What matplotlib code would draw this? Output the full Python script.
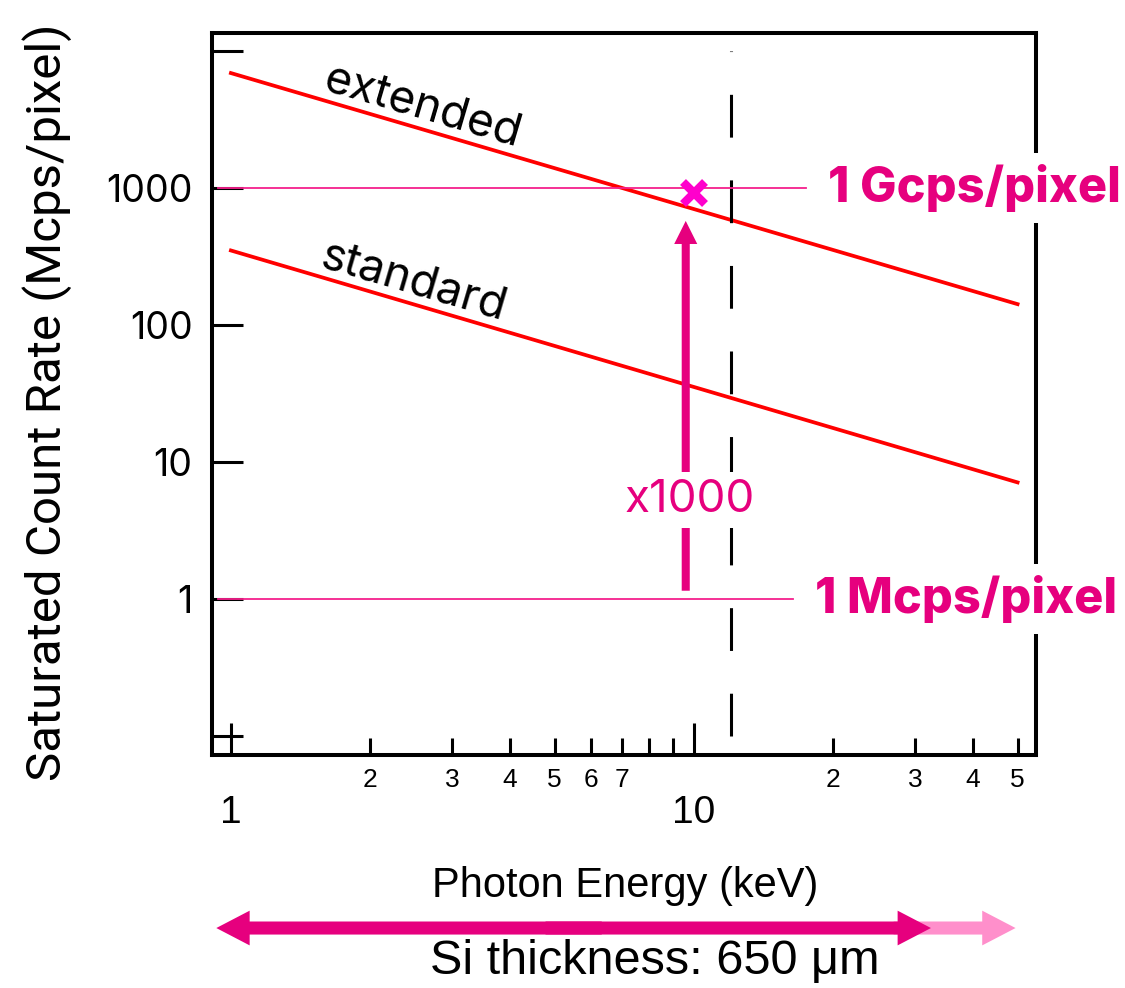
import matplotlib
matplotlib.use("Agg")
import matplotlib.pyplot as plt
from matplotlib.ticker import FixedLocator, FixedFormatter, NullLocator
import numpy as np

# data
energy = [1.0, 50.0]                 # keV
extended = [6900.0, 142.0]           # Mcps/pixel
standard = [350.0, 7.1]
edge_kev = 12.0                      # dashed vertical line
edge_span = [0.1, 10000.0]
gcps_level = 1000.0
mcps_level = 1.0
gcps_span = [0.94, 17.5]
mcps_span = [0.94, 16.4]
target_pt = (10.0, 925.0)            # the x marker
gain_arrow_x = 9.6
gain_arrow_y = (1.15, 575.0)
si_range = (0.93, 32.5)              # dark double arrow
si_extra = (27.0, 49.5)              # light arrow

x_major = [1, 10]
x_major_labels = ["1", "10"]
x_minor = [2, 3, 4, 5, 6, 7, 8, 9, 20, 30, 40, 50]
x_minor_labels = ["2", "3", "4", "5", "6", "7", "", "", "2", "3", "4", "5"]
y_major = [0.1, 1, 10, 100, 1000, 10000]
y_major_labels = ["", "1", "10", "100", "1000", ""]

PINK = "#e6007e"
LINE_PINK = "#f5208c"
LIGHT_PINK = "#ff8fcb"
MARK = "#ff00cc"
RED = "#ff0000"

fig = plt.figure(figsize=(11.25, 9.88), dpi=100)
ax = fig.add_axes([0.1884, 0.2358, 0.7325, 0.7308])
ax.set_xscale("log")
ax.set_yscale("log")
ax.set_xlim(0.91, 54.8)
ax.set_ylim(0.0727, 13530)

for s in ax.spines.values():
    s.set_linewidth(2.9)

ax.plot(energy, extended, color=RED, lw=2.7)
ax.plot(energy, standard, color=RED, lw=2.7)
ax.plot([edge_kev, edge_kev], edge_span, color="black", lw=2.2, ls=(0, (14, 14)))
ax.plot(gcps_span, [gcps_level] * 2, color=LINE_PINK, lw=1.3)
ax.plot(mcps_span, [mcps_level] * 2, color=LINE_PINK, lw=1.3)
ax.plot([target_pt[0]], [target_pt[1]], marker="x", ms=16, mew=6, color=MARK,
        ls="none", zorder=4)

ax.annotate("", xy=(gain_arrow_x, gain_arrow_y[1]), xytext=(gain_arrow_x, gain_arrow_y[0]),
            arrowprops=dict(arrowstyle="simple,tail_width=0.58,head_width=1.66,head_length=1.66",
                            mutation_scale=10, color=PINK, lw=0, shrinkA=0, shrinkB=0))
ax.text(9.8, 5.3, "x1000", fontsize=33, family="Inter", color=PINK,
        ha="center", va="center",
        bbox=dict(facecolor="white", edgecolor="none", pad=5), zorder=5)

# curve labels, rotated along the lines
p0 = ax.transData.transform((energy[0], extended[0]))
p1 = ax.transData.transform((energy[1], extended[1]))
ang = np.degrees(np.arctan2(p1[1] - p0[1], p1[0] - p0[0]))
ax.text(2.6, 3950, "extended", fontsize=33, family="Inter", rotation=ang,
        ha="center", va="center", rotation_mode="anchor")
ax.text(2.48, 205, "standard", fontsize=33, family="Inter", rotation=ang,
        ha="center", va="center", rotation_mode="anchor")

ax.text(19.5, gcps_level, "1 Gcps/pixel", fontsize=35, family="Inter", weight="heavy",
        color=PINK, ha="left", va="center", clip_on=False, zorder=5,
        bbox=dict(facecolor="white", edgecolor="none", pad=8))
ax.text(18.3, mcps_level, "1 Mcps/pixel", fontsize=35, family="Inter", weight="heavy",
        color=PINK, ha="left", va="center", clip_on=False, zorder=5,
        bbox=dict(facecolor="white", edgecolor="none", pad=8))

# ticks
ax.xaxis.set_major_locator(FixedLocator(x_major))
ax.xaxis.set_major_formatter(FixedFormatter(x_major_labels))
ax.xaxis.set_minor_locator(FixedLocator(x_minor))
ax.xaxis.set_minor_formatter(FixedFormatter(x_minor_labels))
ax.yaxis.set_major_locator(FixedLocator(y_major))
ax.yaxis.set_major_formatter(FixedFormatter(y_major_labels))
ax.yaxis.set_minor_locator(NullLocator())
ax.tick_params(axis="x", which="major", direction="in", length=23, width=2.2,
               labelsize=28, pad=29, top=False, labelfontfamily="Liberation Sans")
ax.tick_params(axis="x", which="minor", direction="in", length=12, width=2.2,
               labelsize=19, pad=9, top=False, labelfontfamily="Liberation Sans")
ax.tick_params(axis="y", which="major", direction="in", length=22, width=2.2,
               labelsize=27, pad=14, right=False, labelfontfamily="Inter")

ax.set_xlabel("Photon Energy (keV)", fontsize=30, family="Liberation Sans", va="center")
ax.xaxis.set_label_coords(0.501, -0.181)
ax.set_ylabel("Saturated Count Rate (Mcps/pixel)", fontsize=35.5, family="Roboto", va="center")
ax.yaxis.set_label_coords(-0.200, 0.489)

# Si thickness arrows below the axis
bt = ax.get_xaxis_transform()
ybar = -0.2396
style = "simple,tail_width=0.94,head_width=2.5,head_length=2.4"
ax.annotate("", xy=(si_extra[1], ybar), xytext=(si_extra[0], ybar), xycoords=bt, textcoords=bt,
            annotation_clip=False,
            arrowprops=dict(arrowstyle=style, mutation_scale=10, color=LIGHT_PINK, lw=0,
                            shrinkA=0, shrinkB=0))
mid = np.sqrt(si_range[0] * si_range[1])
for end, back in zip(si_range, (1.15, 1 / 1.15)):
    ax.annotate("", xy=(end, ybar), xytext=(mid * back, ybar), xycoords=bt, textcoords=bt,
                annotation_clip=False,
                arrowprops=dict(arrowstyle=style, mutation_scale=10, color=PINK, lw=0,
                                shrinkA=0, shrinkB=0))
ax.text(0.538, -0.303, "Si thickness: 650 μm", transform=ax.transAxes, fontsize=35,
        family="Liberation Sans", ha="center", va="baseline")

fig.savefig("out.png", dpi=100)
